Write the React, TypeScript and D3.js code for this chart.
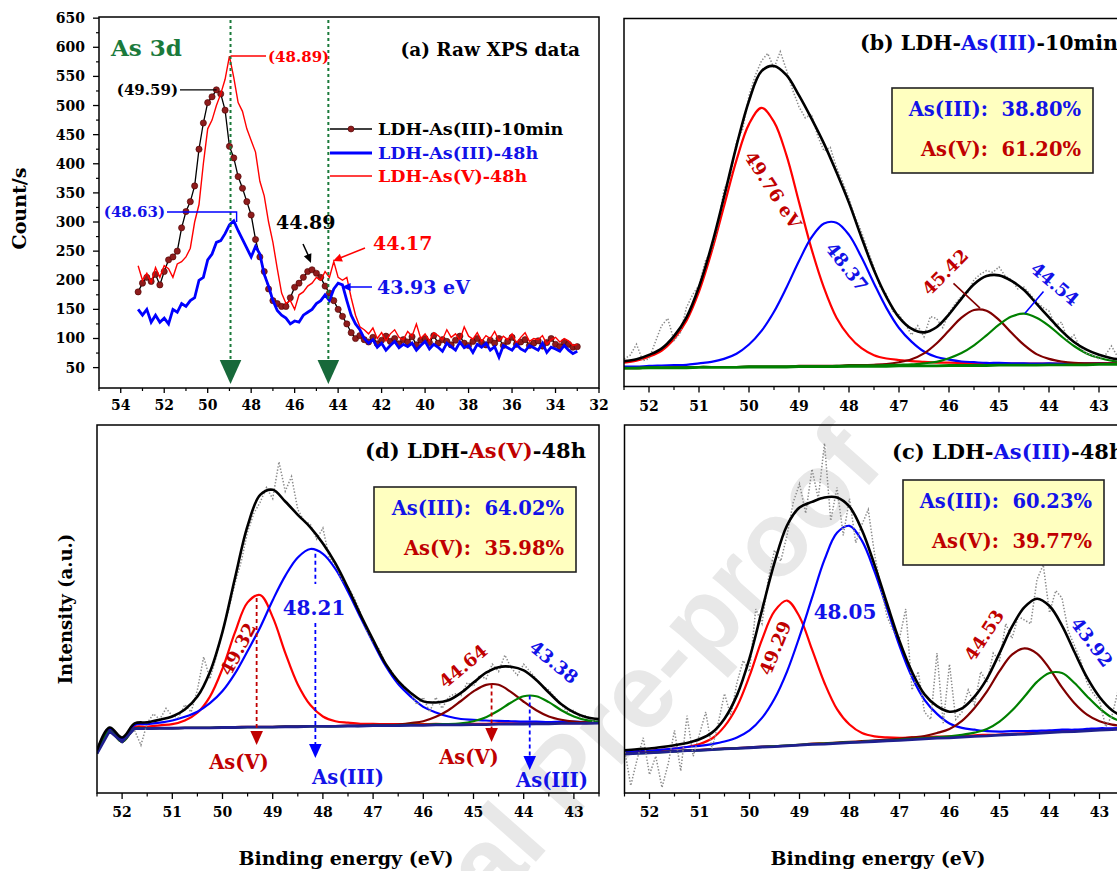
import * as d3 from "d3";

const FONT = "'DejaVu Serif', 'Liberation Serif', serif";
const RED = "#ff0000";
const BLUE = "#0000ff";
const MAROON = "#800000";
const GREEN = "#008000";
const NAVY = "#1f1f8f";
const TXT_RED = "#c00000";
const TXT_BLUE = "#1212e8";

// ---------- (a) raw spectra, 53.2 -> 33.0 eV every 0.2 eV ----------
const energyA = d3.range(102).map((i) => 53.2 - i * 0.2);
const countsIII10min = [
  180, 195, 205, 198, 210, 192, 215, 235, 240, 250, 290, 318, 335, 362, 425, 470, 505, 515, 527, 520,
  492, 430, 410, 378, 358, 335, 312, 270, 240, 215, 185, 165, 160, 155, 155, 170, 188, 195, 205, 215,
  218, 212, 205, 190, 178, 165, 150, 138, 125, 110, 100, 105,
  98, 94, 102, 91, 97, 104, 95, 100, 91, 98, 94, 103, 89, 97, 100, 93, 105, 92, 98, 95,
  89, 97, 104, 92, 88, 95, 100, 93, 89, 97, 92, 100, 88, 95, 102, 90, 94, 98, 88, 92,
  96, 87, 93, 100, 90, 86, 94, 90, 85, 86,
];
const countsIII48h = [
  150, 140, 150, 128, 140, 128, 135, 125, 150, 145, 160, 155, 165, 170, 200, 205, 235, 245, 265, 268,
  280, 295, 302, 285, 270, 255, 240, 258, 245, 210, 190, 165, 148, 140, 135, 125, 130, 128, 140, 145,
  150, 160, 165, 175, 165, 185, 195, 192, 165, 140, 125, 115,
  100, 92, 98, 85, 92, 80, 88, 95, 84, 90, 86, 92, 80, 88, 95, 82, 90, 85, 78, 92,
  86, 80, 94, 84, 88, 76, 90, 85, 92, 80, 86, 68, 88, 84, 80, 90, 82, 78, 88, 84,
  80, 92, 76, 85, 82, 78, 88, 80, 74, 78,
];
const countsV48h = [
  225, 200, 212, 196, 222, 205, 225, 220, 205, 228, 232, 240, 255, 300, 330, 400, 460, 475, 500, 520,
  545, 585, 548, 505, 490, 460, 440, 420, 370, 345, 300, 265, 220, 178, 160, 165, 150, 175, 180, 190,
  195, 205, 200, 215, 205, 232, 205, 200, 205, 170, 140, 120,
  115, 108, 118, 100, 110, 96, 108, 115, 102, 98, 112, 104, 125, 100, 108, 96, 110, 105, 98, 115,
  102, 108, 97, 120, 104, 99, 110, 95, 105, 100, 112, 96, 104, 98, 108, 92, 102, 110, 95, 100,
  98, 105, 90, 98, 102, 94, 100, 96, 88, 90,
];
const yTicksA = [50, 100, 150, 200, 250, 300, 350, 400, 450, 500, 550, 600, 650];
const xTicksA = [54, 52, 50, 48, 46, 44, 42, 40, 38, 36, 34, 32];

// ---------- fitted spectra (b), (c), (d): 52.5 -> 42.5 eV ----------
const fitEnergy = d3.range(41).map((i) => 52.5 - i * 0.25);
const rawEnergy = d3.range(81).map((i) => 52.5 - i * 0.125);
const xTicksFit = [52, 51, 50, 49, 48, 47, 46, 45, 44, 43];

// (b) LDH-As(III)-10min
const bBackground = [
  5.0, 5.0, 5.1, 5.1, 5.1, 5.1, 5.2, 5.2, 5.2, 5.2, 5.3, 5.3, 5.3, 5.3, 5.4, 5.4, 5.4, 5.4, 5.5, 5.5,
  5.5, 5.5, 5.6, 5.6, 5.6, 5.6, 5.7, 5.7, 5.7, 5.7, 5.8, 5.8, 5.8, 5.8, 5.9, 5.9, 5.9, 5.9, 6.0, 6.0, 6.0,
];
const bAsV1 = [
  1.5, 2.0, 3.0, 4.6, 7.8, 12.8, 20.6, 31.3, 43.8, 56.3, 66.0, 70.4, 66.6, 57.5, 44.7, 32.0, 21.4, 13.3, 8.2, 4.9,
  3.0, 2.1, 1.6, 1.3, 1.1, 0.9, 0.8, 0.7, 0.6, 0.5, 0.5, 0.4, 0.4, 0.4, 0.3, 0.3, 0.3, 0.3, 0.2, 0.2, 0.2,
];
const bAsIII1 = [
  0.4, 0.4, 0.5, 0.6, 0.7, 0.8, 1.1, 1.5, 2.3, 3.7, 6.1, 9.8, 15.0, 21.6, 28.7, 35.1, 38.9, 39.1, 35.7, 29.6,
  22.5, 15.8, 10.3, 6.6, 3.9, 2.4, 1.6, 1.1, 0.9, 0.7, 0.6, 0.5, 0.5, 0.4, 0.4, 0.3, 0.3, 0.3, 0.3, 0.2, 0.2,
];
const bAsV2 = [
  0, 0, 0, 0, 0.1, 0.1, 0.1, 0.1, 0.1, 0.1, 0.1, 0.1, 0.1, 0.1, 0.2, 0.2, 0.2, 0.2, 0.3, 0.3,
  0.4, 0.6, 1.0, 1.8, 3.4, 6.1, 9.5, 13.0, 15.1, 14.9, 12.3, 8.8, 5.5, 3.0, 1.6, 0.9, 0.5, 0.4, 0.3, 0.3, 0.2,
];
const bAsIII2 = [
  0, 0, 0, 0, 0, 0, 0.1, 0.1, 0.1, 0.1, 0.1, 0.1, 0.1, 0.1, 0.1, 0.1, 0.1, 0.2, 0.2, 0.2,
  0.2, 0.3, 0.3, 0.4, 0.7, 1.1, 2.0, 3.4, 5.5, 8.2, 11.0, 13.2, 14.0, 12.9, 10.6, 7.7, 5.1, 3.1, 1.8, 1.0, 0.6,
];
const bRaw = [
  7.5, 8.5, 11.5, 7.0, 7.5, 12.0, 16.5, 18.5, 12.5, 14.5, 21.5, 25.0, 27.5, 34.0, 37.0, 43.5, 53.5, 57.0, 66.5, 70.0,
  79.0, 84.5, 88.5, 90.5, 86.5, 91.0, 86.0, 80.5, 76.0, 73.0, 74.0, 68.0, 64.0, 65.0, 59.5, 55.5, 51.0, 46.0, 42.0, 37.0,
  32.5, 27.0, 25.0, 20.5, 19.5, 17.0, 14.0, 16.5, 13.5, 19.0, 18.5, 16.0, 20.0, 22.5, 24.5, 25.5, 29.0, 30.5, 31.5, 31.0,
  32.5, 30.0, 29.0, 26.5, 27.0, 25.0, 23.0, 21.5, 20.5, 16.5, 17.5, 12.5, 14.0, 10.5, 9.0, 8.5, 7.5, 8.5, 11.0, 8.0,
  7.0,
];

// (c) LDH-As(III)-48h
const cBackground = [
  10.6, 10.8, 10.9, 11.1, 11.3, 11.5, 11.6, 11.8, 12.0, 12.1, 12.3, 12.5, 12.6, 12.8, 13.0, 13.2, 13.3, 13.5, 13.7, 13.8,
  14.0, 14.2, 14.3, 14.5, 14.7, 14.9, 15.0, 15.2, 15.4, 15.5, 15.7, 15.9, 16.0, 16.2, 16.4, 16.6, 16.7, 16.9, 17.1, 17.2, 17.4,
];
const cAsV1 = [
  0.4, 0.4, 0.5, 0.6, 0.8, 1.0, 1.7, 3.0, 6.1, 11.4, 19.5, 29.2, 36.8, 39.5, 34.9, 25.8, 16.6, 9.3, 4.9, 2.5,
  1.4, 0.9, 0.7, 0.6, 0.5, 0.4, 0.4, 0.3, 0.3, 0.3, 0.2, 0.2, 0.2, 0.2, 0.2, 0.2, 0.2, 0.2, 0.2, 0.2, 0.2,
];
const cAsIII1 = [
  0.5, 0.6, 0.6, 0.7, 0.8, 1.0, 1.2, 1.5, 2.0, 3.0, 4.7, 7.9, 13.0, 20.2, 29.5, 39.8, 50.1, 57.2, 58.9, 54.7,
  46.2, 36.0, 25.7, 17.0, 10.6, 6.6, 3.9, 2.5, 1.8, 1.3, 1.0, 0.9, 0.8, 0.7, 0.6, 0.6, 0.5, 0.5, 0.5, 0.4, 0.4,
];
const cAsV2 = [
  0.1, 0.1, 0.1, 0.1, 0.1, 0.1, 0.1, 0.1, 0.1, 0.1, 0.1, 0.1, 0.1, 0.1, 0.1, 0.2, 0.2, 0.2, 0.2, 0.3,
  0.3, 0.3, 0.4, 0.6, 0.8, 1.4, 2.4, 4.4, 7.7, 12.1, 17.4, 21.7, 23.3, 21.7, 17.4, 12.1, 7.7, 4.4, 2.4, 1.4, 0.8,
];
const cAsIII2 = [
  0, 0, 0, 0, 0, 0, 0, 0, 0, 0, 0, 0, 0.1, 0.1, 0.1, 0.1, 0.1, 0.1, 0.1, 0.1,
  0.1, 0.1, 0.2, 0.2, 0.2, 0.3, 0.4, 0.6, 1.0, 1.9, 3.7, 6.5, 10.2, 14.0, 16.2, 16.0, 13.2, 9.4, 5.9, 3.3, 1.7,
];
const cRaw = [
  12, 2, 9, 15, 5, 10, 1.5, 8, 17, 6, 21, 10, 16, 22, 12, 19, 27, 21, 30, 36,
  33, 50, 46, 58, 66, 63, 70, 79, 84, 76, 88, 80, 95, 74, 83, 70, 80, 68, 73, 77,
  65, 56, 48, 44, 42, 50, 28, 33, 22, 20, 38, 19, 35, 20, 22, 28, 24, 33, 30, 38,
  36, 46, 42, 48, 47, 46, 58, 62, 49, 55, 53, 44, 40, 36, 30, 27, 25, 18, 21, 28,
  22,
];

// (d) LDH-As(V)-48h
const dBackground = [
  10.7, 16.8, 13.9, 17.5, 17.5, 17.6, 17.6, 17.7, 17.7, 17.7, 17.8, 17.8, 17.9, 17.9, 17.9, 18.0, 18.0, 18.1, 18.1, 18.1,
  18.2, 18.2, 18.3, 18.3, 18.3, 18.4, 18.4, 18.5, 18.5, 18.5, 18.6, 18.6, 18.7, 18.7, 18.7, 18.8, 18.8, 18.9, 18.9, 18.9, 19.0,
];
const dAsV1 = [
  0.3, 0.3, 0.4, 0.4, 0.5, 0.8, 1.1, 2.0, 4.1, 8.5, 16.0, 25.9, 33.9, 35.9, 29.9, 20.1, 11.5, 5.8, 2.7, 1.4,
  0.9, 0.6, 0.5, 0.4, 0.4, 0.3, 0.3, 0.3, 0.2, 0.2, 0.2, 0.2, 0.2, 0.2, 0.2, 0.1, 0.1, 0.1, 0.1, 0.1, 0.1,
];
const dAsIII1 = [
  0.6, 0.7, 0.8, 1.0, 1.2, 1.5, 2.1, 3.0, 4.4, 6.7, 9.9, 14.7, 20.7, 27.1, 34.5, 41.0, 46.0, 48.2, 46.9, 42.8,
  36.5, 29.5, 22.6, 16.2, 11.3, 7.8, 5.0, 3.4, 2.3, 1.6, 1.3, 1.1, 0.9, 0.8, 0.7, 0.6, 0.5, 0.5, 0.5, 0.4, 0.4,
];
const dAsV2 = [
  0, 0, 0, 0, 0, 0, 0, 0, 0, 0, 0.1, 0.1, 0.1, 0.1, 0.1, 0.1, 0.1, 0.1, 0.1, 0.1,
  0.1, 0.1, 0.2, 0.2, 0.3, 0.6, 1.1, 2.2, 4.0, 6.5, 9.0, 10.8, 10.7, 8.7, 6.1, 3.7, 2.0, 1.0, 0.5, 0.3, 0.2,
];
const dAsIII2 = [
  0, 0, 0, 0, 0, 0, 0, 0, 0, 0, 0, 0, 0, 0, 0, 0, 0, 0, 0, 0,
  0, 0, 0, 0, 0.1, 0.1, 0.1, 0.2, 0.2, 0.4, 0.9, 2.0, 3.7, 5.9, 7.6, 7.5, 5.9, 3.6, 1.9, 0.9, 0.4,
];
const dRaw = [
  null, null, null, null, null, null,
  17, 13, 19, 21.5, 20, 23, 21, 20.5, 24, 22, 28, 37, 31, 37, 44, 50, 57, 63, 71, 76,
  79, 83, 80, 90, 82, 86, 77, 74, 73, 69, 72, 64, 62, 58, 56, 53, 49, 44, 41, 39,
  35, 33, 30, 29, 27, 24, 26, 22, 26, 23, 26, 27, 26.5, 30, 29, 32, 31, 35, 33, 37.5,
  34, 32, 35, 33, 31, 29, 28, 26, 24, 22, 22.5, 20.5, 21, 19.5, 20,
];

type Frame = { x0: number; x1: number; y0: number; y1: number };
type Pt = [number, number];

const FRAME_A: Frame = { x0: 99, x1: 599, y0: 17, y1: 388 };
const FRAME_B: Frame = { x0: 624, x1: 1124, y0: 18.5, y1: 386.5 };
const FRAME_C: Frame = { x0: 624.5, x1: 1124.5, y0: 425, y1: 793 };
const FRAME_D: Frame = { x0: 97, x1: 599, y0: 425, y1: 793 };

function fitScales(f: Frame) {
  return {
    x: d3.scaleLinear().domain([52.5, 42.5]).range([f.x0, f.x1]),
    y: d3.scaleLinear().domain([0, 100]).range([f.y1, f.y0]),
  };
}

function Arrowhead({ x, y, dir, size, color }: { x: number; y: number; dir: number; size: number; color: string }) {
  // tip at (x,y), pointing along angle dir (degrees)
  const pts = [
    [0, 0],
    [-size, -size * 0.45],
    [-size, size * 0.45],
  ];
  return (
    <polygon
      points={pts.map((p) => p.join(",")).join(" ")}
      fill={color}
      transform={`translate(${x},${y}) rotate(${dir})`}
    />
  );
}

function PanelA() {
  const f = FRAME_A;
  const x = d3.scaleLinear().domain([55, 32]).range([f.x0, f.x1]);
  const y = d3.scaleLinear().domain([15, 652]).range([f.y1, f.y0]);
  const line = d3
    .line<number>()
    .x((_, i) => x(energyA[i]))
    .y((d) => y(d));
  const minorY = d3.range(75, 650, 50);
  const minorX = d3.range(55, 32, -2);
  const guides = [48.95, 44.45];
  return (
    <g>
      <clipPath id="clipA">
        <rect x={f.x0} y={f.y0} width={f.x1 - f.x0} height={f.y1 - f.y0} />
      </clipPath>
      <g clipPath="url(#clipA)">
        <path d={line(countsIII10min) ?? ""} fill="none" stroke="#000" strokeWidth={1.3} />
        {countsIII10min.map((v, i) => (
          <circle key={i} cx={x(energyA[i])} cy={y(v)} r={3.1} fill="#8e1c1c" stroke="#4a0000" strokeWidth={0.6} />
        ))}
        <path d={line(countsV48h) ?? ""} fill="none" stroke={RED} strokeWidth={1.4} />
        <path d={line(countsIII48h) ?? ""} fill="none" stroke={BLUE} strokeWidth={2.8} />
      </g>
      {guides.map((g) => (
        <g key={g}>
          <line x1={x(g)} x2={x(g)} y1={f.y0 + 3} y2={y(38)} stroke="#1a7a3a" strokeWidth={2} strokeDasharray="3 3" />
          <Arrowhead x={x(g)} y={f.y1 - 4} dir={90} size={24} color="#17693a" />
        </g>
      ))}
      <rect x={f.x0} y={f.y0} width={f.x1 - f.x0} height={f.y1 - f.y0} fill="none" stroke="#000" strokeWidth={1.5} />
      {yTicksA.map((t) => (
        <g key={t}>
          <line x1={f.x0 - 6} x2={f.x0} y1={y(t)} y2={y(t)} stroke="#000" strokeWidth={1.3} />
          <text x={85} y={y(t) + 5} textAnchor="end" fontSize={14} fontWeight="bold">
            {t}
          </text>
        </g>
      ))}
      {minorY.map((t) => (
        <line key={t} x1={f.x0 - 3} x2={f.x0} y1={y(t)} y2={y(t)} stroke="#000" strokeWidth={1.2} />
      ))}
      {xTicksA.map((t) => (
        <g key={t}>
          <line x1={x(t)} x2={x(t)} y1={f.y1} y2={f.y1 + 5} stroke="#000" strokeWidth={1.3} />
          <text x={x(t)} y={f.y1 + 22} textAnchor="middle" fontSize={14} fontWeight="bold">
            {t}
          </text>
        </g>
      ))}
      {minorX.map((t) => (
        <line key={t} x1={x(t)} x2={x(t)} y1={f.y1} y2={f.y1 + 3} stroke="#000" strokeWidth={1.2} />
      ))}
      <text transform={`translate(26,${(f.y0 + f.y1) / 2 + 6}) rotate(-90)`} textAnchor="middle" fontSize={19} fontWeight="bold">
        Count/s
      </text>

      <text x={111} y={56} fontSize={23} fontWeight="bold" fill="#1b7a3c">
        As 3d
      </text>
      <text x={580} y={56} textAnchor="end" fontSize={18.5} fontWeight="bold">
        (a) Raw XPS data
      </text>

      {/* legend */}
      <line x1={330} x2={372} y1={129} y2={129} stroke="#000" strokeWidth={1.5} />
      <circle cx={351} cy={129} r={3} fill="#8e1c1c" stroke="#4a0000" strokeWidth={0.6} />
      <text x={378} y={135} fontSize={17.5} fontWeight="bold">
        LDH-As(III)-10min
      </text>
      <line x1={330} x2={372} y1={153} y2={153} stroke={BLUE} strokeWidth={3} />
      <text x={378} y={159} fontSize={17.5} fontWeight="bold" fill={TXT_BLUE}>
        LDH-As(III)-48h
      </text>
      <line x1={330} x2={372} y1={176} y2={176} stroke={RED} strokeWidth={1.6} />
      <text x={378} y={182} fontSize={17.5} fontWeight="bold" fill={RED}>
        LDH-As(V)-48h
      </text>

      {/* peak call-outs */}
      <line x1={x(48.95)} x2={266} y1={y(585)} y2={y(585)} stroke={RED} strokeWidth={1.3} />
      <text x={268} y={y(585) + 6} fontSize={15} fontWeight="bold" fill={RED}>
        (48.89)
      </text>
      <line x1={180} x2={x(49.59)} y1={y(527)} y2={y(527)} stroke="#000" strokeWidth={1.3} />
      <text x={178} y={y(527) + 5} textAnchor="end" fontSize={15} fontWeight="bold">
        (49.59)
      </text>
      <polyline
        points={`167,212 ${x(48.67)},212 ${x(48.67)},222`}
        fill="none"
        stroke={BLUE}
        strokeWidth={1.4}
      />
      <text x={165} y={217} textAnchor="end" fontSize={15} fontWeight="bold" fill={TXT_BLUE}>
        (48.63)
      </text>
      <text x={276} y={229} fontSize={19} fontWeight="bold">
        44.89
      </text>
      <line x1={303} x2={309} y1={244} y2={257} stroke="#000" strokeWidth={1.5} />
      <Arrowhead x={311} y={263} dir={68} size={9} color="#000" />
      <text x={373} y={250} fontSize={19} fontWeight="bold" fill={RED}>
        44.17
      </text>
      <line x1={365} x2={340} y1={248} y2={258} stroke={RED} strokeWidth={1.5} />
      <Arrowhead x={333} y={261} dir={158} size={9} color={RED} />
      <text x={377} y={294} fontSize={19} fontWeight="bold" fill={TXT_BLUE}>
        43.93 eV
      </text>
      <line x1={372} x2={345} y1={287} y2={287} stroke={BLUE} strokeWidth={1.5} />
      <Arrowhead x={x(43.93) + 2} y={287} dir={180} size={9} color={BLUE} />
    </g>
  );
}

type Peak = { values: number[]; color: string };

function FitPanel({
  id,
  frame,
  background,
  bgColor,
  peaks,
  raw,
}: {
  id: string;
  frame: Frame;
  background: number[];
  bgColor: string;
  peaks: Peak[];
  raw: (number | null)[];
}) {
  const { x, y } = fitScales(frame);
  const smooth = d3
    .line<Pt>()
    .x((d) => x(d[0]))
    .y((d) => y(d[1]))
    .curve(d3.curveCatmullRom.alpha(0.5));
  const straight = d3
    .line<Pt>()
    .x((d) => x(d[0]))
    .y((d) => y(d[1]));
  const dotted = d3
    .line<[number, number | null]>()
    .defined((d) => d[1] != null)
    .x((d) => x(d[0]))
    .y((d) => y(d[1] as number));
  const bgPts: Pt[] = fitEnergy.map((e, i) => [e, background[i]]);
  const envelope: Pt[] = fitEnergy.map((e, i) => [e, background[i] + d3.sum(peaks, (p) => p.values[i])]);
  const rawPts: [number, number | null][] = rawEnergy.map((e, i) => [e, raw[i]]);
  const minor = d3.range(52.5, 42.4, -1);
  return (
    <g>
      <clipPath id={id}>
        <rect x={frame.x0} y={frame.y0} width={frame.x1 - frame.x0} height={frame.y1 - frame.y0} />
      </clipPath>
      <g clipPath={`url(#${id})`}>
        {peaks.map((p, k) => (
          <path
            key={k}
            d={smooth(fitEnergy.map((e, i) => [e, background[i] + p.values[i]] as Pt)) ?? ""}
            fill="none"
            stroke={p.color}
            strokeWidth={2.2}
          />
        ))}
        <path d={straight(bgPts) ?? ""} fill="none" stroke={bgColor} strokeWidth={2.8} />
        <path d={dotted(rawPts) ?? ""} fill="none" stroke="#8a8a8a" strokeWidth={1.5} strokeDasharray="1.4 1.8" />
        <path d={smooth(envelope) ?? ""} fill="none" stroke="#000" strokeWidth={2.6} />
      </g>
      <rect
        x={frame.x0}
        y={frame.y0}
        width={frame.x1 - frame.x0}
        height={frame.y1 - frame.y0}
        fill="none"
        stroke="#000"
        strokeWidth={1.5}
      />
      {xTicksFit.map((t) => (
        <g key={t}>
          <line x1={x(t)} x2={x(t)} y1={frame.y1} y2={frame.y1 + 6} stroke="#000" strokeWidth={1.3} />
          <text x={x(t)} y={frame.y1 + 24} textAnchor="middle" fontSize={14} fontWeight="bold">
            {t}
          </text>
        </g>
      ))}
      {minor.map((t) => (
        <line key={t} x1={x(t)} x2={x(t)} y1={frame.y1} y2={frame.y1 + 3.5} stroke="#000" strokeWidth={1.2} />
      ))}
    </g>
  );
}

function ShareBox({ x, y, right, iii, v }: { x: number; y: number; right: number; iii: string; v: string }) {
  return (
    <g>
      <rect x={x} y={y} width={right - x} height={85} fill="#ffffc0" stroke="#222" strokeWidth={1.6} />
      <text x={right - 12} y={y + 28} textAnchor="end" fontSize={19.5} fontWeight="bold" fill={TXT_BLUE} style={{ whiteSpace: "pre" }}>
        {`As(III):  ${iii}`}
      </text>
      <text x={right - 12} y={y + 68} textAnchor="end" fontSize={19.5} fontWeight="bold" fill={TXT_RED} style={{ whiteSpace: "pre" }}>
        {`As(V):  ${v}`}
      </text>
    </g>
  );
}

function Label({ x, y, rot, color, size, children }: { x: number; y: number; rot: number; color: string; size: number; children: string }) {
  return (
    <text
      transform={`translate(${x},${y}) rotate(${rot})`}
      textAnchor="middle"
      dominantBaseline="central"
      fontSize={size}
      fontWeight="bold"
      fill={color}
    >
      {children}
    </text>
  );
}

function DashedArrow({ x, y1, y2, color }: { x: number; y1: number; y2: number; color: string }) {
  return (
    <g>
      <line x1={x} x2={x} y1={y1} y2={y2 - 12} stroke={color} strokeWidth={1.8} strokeDasharray="4 3" />
      <Arrowhead x={x} y={y2} dir={90} size={14} color={color} />
    </g>
  );
}

function AnnotB() {
  const { x, y } = fitScales(FRAME_B);
  return (
    <g>
      <text x={860} y={50} fontSize={20.5} fontWeight="bold">
        (b) LDH-<tspan fill={TXT_BLUE}>As(III)</tspan>-10min
      </text>
      <ShareBox x={892} y={88} right={1093} iii="38.80%" v="61.20%" />
      <Label x={x(49.52)} y={y(53.4)} rot={57} color={TXT_RED} size={18}>
        49.76 eV
      </Label>
      <Label x={x(48.04)} y={y(32.5)} rot={52} color={TXT_BLUE} size={18}>
        48.37
      </Label>
      <Label x={x(46.08)} y={y(31.1)} rot={-45} color={TXT_RED} size={18}>
        45.42
      </Label>
      <line x1={x(45.91)} y1={y(28)} x2={x(45.38)} y2={y(21.3)} stroke={MAROON} strokeWidth={1.6} />
      <Label x={x(43.88)} y={y(27.9)} rot={40} color={TXT_BLUE} size={18}>
        44.54
      </Label>
      <line x1={x(44.11)} y1={y(25.8)} x2={x(44.48)} y2={y(19.9)} stroke={BLUE} strokeWidth={1.6} />
    </g>
  );
}

function AnnotC() {
  return (
    <g>
      <text x={892} y={459} fontSize={21} fontWeight="bold">
        (c) LDH-<tspan fill={TXT_BLUE}>As(III)</tspan>-48h
      </text>
      <ShareBox x={903} y={480} right={1104} iii="60.23%" v="39.77%" />
      <Label x={775} y={648} rot={-68} color={TXT_RED} size={18}>
        49.29
      </Label>
      <Label x={845} y={612} rot={0} color={TXT_BLUE} size={20}>
        48.05
      </Label>
      <Label x={984} y={635} rot={-57} color={TXT_RED} size={18}>
        44.53
      </Label>
      <Label x={1092} y={642} rot={53} color={TXT_BLUE} size={18}>
        43.92
      </Label>
    </g>
  );
}

function AnnotD() {
  const { x, y } = fitScales(FRAME_D);
  return (
    <g>
      <text x={586} y={458} textAnchor="end" fontSize={21} fontWeight="bold">
        (d) LDH-<tspan fill={TXT_RED}>As(V)</tspan>-48h
      </text>
      <ShareBox x={374} y={487} right={576} iii="64.02%" v="35.98%" />
      <Label x={238} y={649} rot={-62} color={TXT_RED} size={18}>
        49.32
      </Label>
      <Label x={314} y={608} rot={0} color={TXT_BLUE} size={20}>
        48.21
      </Label>
      <Label x={463} y={666} rot={-40} color={TXT_RED} size={18}>
        44.64
      </Label>
      <Label x={554} y={662} rot={39} color={TXT_BLUE} size={18}>
        43.38
      </Label>
      <DashedArrow x={x(49.32)} y1={y(53)} y2={745} color={TXT_RED} />
      <line x1={x(48.15)} x2={x(48.15)} y1={y(65)} y2={584} stroke={BLUE} strokeWidth={1.8} strokeDasharray="4 3" />
      <DashedArrow x={x(48.15)} y1={623} y2={758} color={BLUE} />
      <DashedArrow x={x(44.64)} y1={y(29.5)} y2={742} color={TXT_RED} />
      <DashedArrow x={x(43.88)} y1={y(26.5)} y2={770} color={BLUE} />
      <Label x={239} y={762} rot={0} color={TXT_RED} size={19.5}>
        As(V)
      </Label>
      <Label x={348} y={777} rot={0} color={TXT_BLUE} size={19.5}>
        As(III)
      </Label>
      <Label x={469} y={757} rot={0} color={TXT_RED} size={19.5}>
        As(V)
      </Label>
      <Label x={552} y={780} rot={0} color={TXT_BLUE} size={19.5}>
        As(III)
      </Label>
    </g>
  );
}

export default function App() {
  return (
    <>
      <style>{`body{margin:0}`}</style>
      <svg width={1117} height={871} style={{ display: "block", fontFamily: FONT }}>
        <rect width={1117} height={871} fill="#fff" />
        <text
          transform="translate(886,466) rotate(-48.5)"
          textAnchor="end"
          fontFamily="'Liberation Sans', Arial, sans-serif"
          fontWeight="bold"
          fontSize={106}
          fill="#e8e8e8"
        >
          Journal Pre-proof
        </text>
        <PanelA />
        <FitPanel
          id="clipB"
          frame={FRAME_B}
          background={bBackground}
          bgColor={GREEN}
          peaks={[
            { values: bAsV1, color: RED },
            { values: bAsIII1, color: BLUE },
            { values: bAsV2, color: MAROON },
            { values: bAsIII2, color: GREEN },
          ]}
          raw={bRaw}
        />
        <AnnotB />
        <FitPanel
          id="clipD"
          frame={FRAME_D}
          background={dBackground}
          bgColor={NAVY}
          peaks={[
            { values: dAsV1, color: RED },
            { values: dAsIII1, color: BLUE },
            { values: dAsV2, color: MAROON },
            { values: dAsIII2, color: GREEN },
          ]}
          raw={dRaw}
        />
        <AnnotD />
        <FitPanel
          id="clipC"
          frame={FRAME_C}
          background={cBackground}
          bgColor={NAVY}
          peaks={[
            { values: cAsV1, color: RED },
            { values: cAsIII1, color: BLUE },
            { values: cAsV2, color: MAROON },
            { values: cAsIII2, color: GREEN },
          ]}
          raw={cRaw}
        />
        <AnnotC />
        <text transform="translate(72,609) rotate(-90)" textAnchor="middle" fontSize={18} fontWeight="bold">
          Intensity (a.u.)
        </text>
        <text x={346} y={865} textAnchor="middle" fontSize={19} fontWeight="bold">
          Binding energy (eV)
        </text>
        <text x={878} y={865} textAnchor="middle" fontSize={19} fontWeight="bold">
          Binding energy (eV)
        </text>
      </svg>
    </>
  );
}
